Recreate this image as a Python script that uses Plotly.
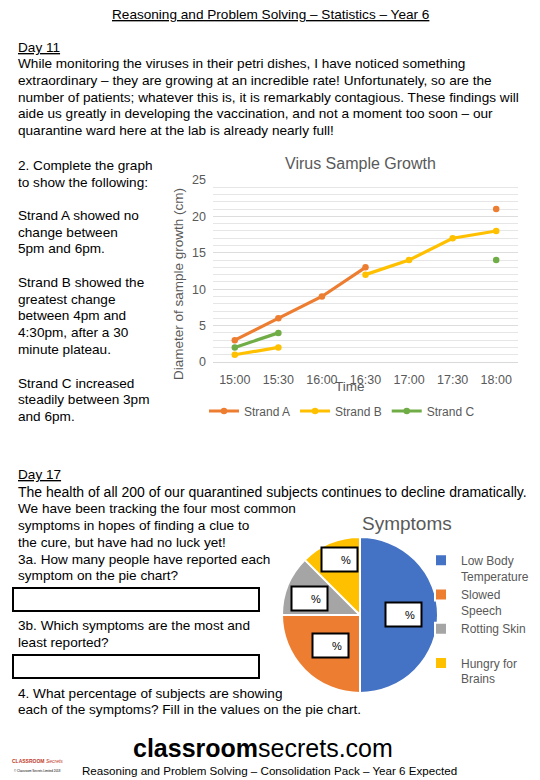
import plotly.graph_objects as go

W, H = 540, 780
FONT = "Liberation Sans, Arial, sans-serif"
GREY = "#595959"
BODY = 13.6

# ---- line chart data ----
times = ["15:00", "15:30", "16:00", "16:30", "17:00", "17:30", "18:00"]
strand_a = [3, 6, 9, 13, None, None, 21]
strand_b = [1, 2, None, 12, 14, 17, 18]
strand_c = [2, 4, None, None, None, None, 14]
y_ticks = [0, 5, 10, 15, 20, 25]

# ---- pie data ----
symptoms = ["Low Body<br>Temperature", "Slowed<br>Speech", "Rotting Skin<br>&nbsp;", "Hungry for<br>Brains"]
symptom_counts = [100, 50, 25, 25]
symptom_colors = ["#4472C4", "#ED7D31", "#A5A5A5", "#FFC000"]


def px(x):
    return x / W


def py(y):
    return 1 - y / H


fig = go.Figure()

for name, vals, col in [("Strand A", strand_a, "#ED7D31"),
                        ("Strand B", strand_b, "#FFC000"),
                        ("Strand C", strand_c, "#70AD47")]:
    fig.add_trace(go.Scatter(
        x=times, y=vals, name=name, mode="lines+markers",
        line=dict(color=col, width=3.2), marker=dict(color=col, size=6.5),
        connectgaps=False, legend="legend"))

fig.add_trace(go.Pie(
    labels=symptoms, values=symptom_counts, sort=False, direction="clockwise",
    rotation=0, marker=dict(colors=symptom_colors, line=dict(color="white", width=2)),
    textinfo="none", hoverinfo="label+value",
    domain=dict(x=[px(282), px(438)], y=[py(693), py(537)]),
    legend="legend2"))

fig.update_layout(
    width=W, height=H, margin=dict(l=0, r=0, t=0, b=0, autoexpand=False),
    paper_bgcolor="white", plot_bgcolor="white",
    font=dict(family=FONT, color="black"),
    xaxis=dict(domain=[px(213), px(518)], type="category", categoryorder="array",
               categoryarray=times, range=[-0.5, 6.5], showgrid=False,
               showline=True, linecolor="#D9D9D9", ticks="",
               tickfont=dict(size=12.5, color=GREY), ticklabelstandoff=6),
    yaxis=dict(domain=[py(362), py(180)], range=[0, 25], tickvals=y_ticks,
               showgrid=True, gridcolor="#DDDDDD", zeroline=False,
               minor=dict(dtick=1, showgrid=True, gridcolor="#E6E6E6"),
               tickfont=dict(size=12.5, color=GREY), ticklabelstandoff=6),
    legend=dict(orientation="h", x=px(342), y=py(411), xanchor="center", yanchor="middle",
                font=dict(size=12, color=GREY), bgcolor="rgba(0,0,0,0)", itemwidth=30),
    legend2=dict(orientation="v", x=px(421), y=py(546), xanchor="left", yanchor="top",
                 font=dict(size=12, color=GREY), bgcolor="rgba(0,0,0,0)",
                 valign="top", itemwidth=30),
    showlegend=True,
)

ann = []


def text(x, y, s, size=BODY, anchor="left", color="black", **kw):
    ann.append(dict(x=px(x), y=py(y), xref="paper", yref="paper", text=s,
                    showarrow=False, xanchor=anchor, yanchor="middle",
                    font=dict(size=size, color=color, family=FONT), **kw))


text(270, 14, "<u>Reasoning and Problem Solving – Statistics – Year 6</u>", anchor="center")
text(16, 47.5, "<u>Day 11</u>")
para1 = [
    "While monitoring the viruses in their petri dishes, I have noticed something",
    "extraordinary – they are growing at an incredible rate! Unfortunately, so are the",
    "number of patients; whatever this is, it is remarkably contagious. These findings will",
    "aide us greatly in developing the vaccination, and not a moment too soon – our",
    "quarantine ward here at the lab is already nearly full!",
]
for i, s in enumerate(para1):
    text(16, 63.5 + i * 16.8, s)

left_lines = [
    (165, "2. Complete the graph"), (182, "to show the following:"),
    (215.5, "Strand A showed no"), (232, "change between"), (248.5, "5pm and 6pm."),
    (282.5, "Strand B showed the"), (299, "greatest change"), (315.5, "between 4pm and"),
    (332.5, "4:30pm, after a 30"), (349.5, "minute plateau."),
    (383, "Strand C increased"), (399.5, "steadily between 3pm"), (416, "and 6pm."),
]
for y, s in left_lines:
    text(16, y, s)

# line chart texts
text(360, 163, "Virus Sample Growth", size=16, anchor="center", color=GREY)
text(350, 386, "Time", size=13.5, anchor="center", color=GREY)
ann.append(dict(x=px(178), y=py(284), xref="paper", yref="paper",
                text="Diameter of sample growth (cm)", showarrow=False, textangle=-90,
                xanchor="center", yanchor="middle", font=dict(size=13.5, color=GREY, family=FONT)))

# Day 17
text(16, 475, "<u>Day 17</u>")
lower_lines = [
    (491.7, "The health of all 200 of our quarantined subjects continues to decline dramatically.", 14),
    (508.3, "We have been tracking the four most common", BODY),
    (525, "symptoms in hopes of finding a clue to", BODY),
    (542, "the cure, but have had no luck yet!", BODY),
    (559, "3a. How many people have reported each", BODY),
    (575.7, "symptom on the pie chart?", BODY),
    (625, "3b. Which symptoms are the most and", BODY),
    (642.5, "least reported?", BODY),
    (693, "4. What percentage of subjects are showing", BODY),
    (709, "each of the symptoms? Fill in the values on the pie chart.", BODY),
]
for y, s, sz in lower_lines:
    text(16, y, s, size=sz)

text(407, 523, "Symptoms", size=19, anchor="center", color=GREY)

# footer
text(263, 748, "<b>classroom</b>secrets.com", size=25, anchor="center")
text(269, 770, "Reasoning and Problem Solving – Consolidation Pack – Year 6 Expected", size=11.6, anchor="center")
text(37, 761, "<b>CLASSROOM</b> <i>Secrets</i>", size=5, anchor="center", color="#C0392B")
text(37, 771, "© Classroom Secrets Limited 2018", size=3, anchor="center")

shapes = []
# answer boxes
for (y0, y1) in [(588, 611), (655, 678)]:
    shapes.append(dict(type="rect", xref="paper", yref="paper",
                       x0=px(13), x1=px(259), y0=py(y1), y1=py(y0),
                       line=dict(color="black", width=2), fillcolor="white"))
# percentage boxes on pie
for cx, cy in [(339.5, 559.5), (309.5, 598.5), (403.5, 614.5), (330.5, 645.5)]:
    shapes.append(dict(type="rect", xref="paper", yref="paper",
                       x0=px(cx - 18), x1=px(cx + 18), y0=py(cy + 12), y1=py(cy - 12),
                       line=dict(color="black", width=2), fillcolor="white", layer="above"))
    text(cx + 6, cy, "%", size=11, anchor="center")

fig.update_layout(annotations=ann, shapes=shapes)
fig.write_html("out.html", config={"displayModeBar": False},
               post_script="document.body.style.margin='0';document.body.style.overflow='hidden';")
